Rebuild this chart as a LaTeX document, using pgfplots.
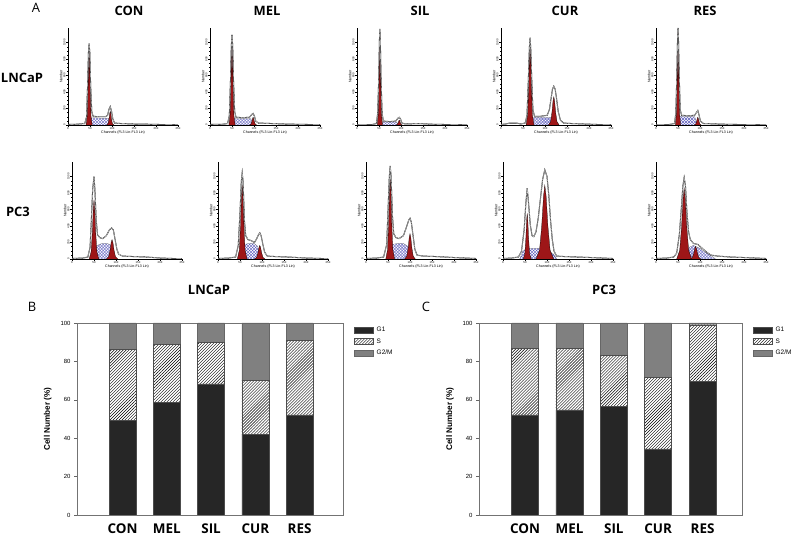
\documentclass[border=0pt]{standalone}
\usepackage{fontspec}
\setmainfont{Liberation Sans}
\newfontfamily\myr{Open Sans}
\usepackage{pgfplots}
\pgfplotsset{compat=1.18}
\usetikzlibrary{patterns}
\definecolor{peakred}{RGB}{158,22,24}
\definecolor{sblue}{RGB}{95,95,190}

\pgfplotsset{
  hist/.style={
    scale only axis, width=110bp, height=97bp,
    xmin=0, xmax=250, ymin=0, ymax=100,
    axis lines=left, axis line style={-, line width=0.4bp},
    xtick={0,50,...,250}, minor x tick num=4,
    ytick={0,17,34,51,68,85}, yticklabels={0,200,400,600,800,1000},
    minor y tick num=3,
    tick align=outside, major tick length=2bp, minor tick length=1bp,
    tick style={line width=0.3bp, black},
    /pgf/number format/assume math mode=true,
    ticklabel style={font=\fontsize{2.8}{3}\selectfont, inner sep=0.5bp},
    yticklabel style={rotate=90},
    xlabel={Channels (FL3 Lin-FL3 Lin)}, ylabel={Number},
    label style={font=\fontsize{3.6}{4}\selectfont},
    xlabel style={yshift=3bp}, ylabel style={yshift=-3bp},
  },
  env/.style={no markers, black, line width=0.3bp, double=white, double distance=0.35bp},
  sph/.style={no markers, draw=black!60, line width=0.2bp, pattern=crosshatch, pattern color=sblue},
  pk/.style={no markers, draw=black, line width=0.25bp, fill=peakred},
  bars/.style={
    scale only axis, height=192bp,
    ybar stacked, bar width=27bp,
    ymin=0, ymax=100, ytick={0,20,...,100},
    xtick={0,...,4}, xticklabels={CON,MEL,SIL,CUR,RES},
    axis line style={black!55, line width=0.5bp},
    ytick pos=left, tick align=outside, major tick length=3bp,
    ytick style={black!60}, xtick style={draw=none},
    /pgf/number format/assume math mode=true,
    yticklabel style={font=\fontsize{6}{7}\selectfont},
    xticklabel style={font=\myr\bfseries\fontsize{13.5}{15}\selectfont, yshift=-2bp},
    ylabel={Cell Number (\%)},
    ylabel style={font=\bfseries\fontsize{8.2}{9}\selectfont, at={(axis description cs:-0.11,0.5)}, anchor=center},
    legend style={at={(1.04,0.985)}, anchor=north west, draw=none,
      font=\fontsize{6.5}{7}\selectfont, row sep=3.5bp, inner sep=0pt,
      nodes={inner sep=1bp},
      /tikz/every odd column/.append style={column sep=2.5bp}},
    legend cell align=left,
    legend image code/.code={\draw[#1] (0bp,-3bp) rectangle (19bp,3bp);},
  },
  g1/.style={fill=black!85, draw=black!70, line width=0.4bp},
  sbar/.style={pattern=north east lines, draw=black!70, line width=0.4bp},
  g2/.style={fill=black!50, draw=black!60, line width=0.4bp},
}

\begin{document}
\begin{tikzpicture}[x=1bp, y=1bp]
\path[use as bounding box] (0,0) rectangle (796,536);

% ---- panel A labels ----
\node[font=\myr\fontsize{13}{15}\selectfont] at (36,528) {A};
\begin{scope}[every node/.style={font=\myr\bfseries\fontsize{13}{15}\selectfont}]
\node at (129,525) {CON};
\node at (267,525) {MEL};
\node at (420,525) {SIL};
\node at (565,525) {CUR};
\node at (705,525) {RES};
\node at (22,458) {LNCaP};
\node at (18,324) {PC3};
\end{scope}

% ---- LNCaP histograms ----
\begin{axis}[hist, at={(68bp,411bp)}, anchor=south west]
\addplot[sph] coordinates {(45,0)(49,7)(60,7.5)(75,7)(92,7)(97,0)};
\addplot[pk] coordinates {(41,0)(43.8,9.6)(45.5,36)(47,68)(48,80)(49,68)(50.5,36)(52.2,9.6)(55,0)};
\addplot[pk] coordinates {(88,0)(91.2,1.7)(93.2,6.3)(94.8,11.9)(96,14)(97.2,11.9)(98.8,6.3)(100.8,1.7)(104,0)};
\addplot[env] coordinates {(0,0.5)(20,0.8)(38,1.5)(42,8)(44.5,40)(46.5,75)(48,84)(49.5,75)(51.5,40)(54,14)(57,9)(70,8.5)(85,8.5)(90,10)(93,16)(96,19)(99,14)(102,6)(106,2)(120,1.5)(150,1)(180,0.8)(210,0.5)(240,0.3)(250,0.2)};
\end{axis}

\begin{axis}[hist, at={(210bp,411bp)}, anchor=south west]
\addplot[sph] coordinates {(47,0)(51,7)(65,6.5)(80,6.5)(93,6.5)(97,0)};
\addplot[pk] coordinates {(43,0)(45.8,10.6)(47.5,39.6)(49,74.8)(50,88)(51,74.8)(52.5,39.6)(54.2,10.6)(57,0)};
\addplot[pk] coordinates {(90,0)(93.2,1)(95.2,3.6)(96.8,6.8)(98,8)(99.2,6.8)(100.8,3.6)(102.8,1)(106,0)};
\addplot[env] coordinates {(0,0.5)(30,0.8)(40,1.5)(44,10)(46.5,45)(48.5,82)(50,93)(51.5,82)(53.5,45)(56,14)(59,8)(75,7.5)(90,8)(95,11)(98,12)(101,9)(104,4)(110,2)(140,1.5)(170,1)(200,0.7)(250,0.3)};
\end{axis}

\begin{axis}[hist, at={(357bp,411bp)}, anchor=south west]
\addplot[sph] coordinates {(49,0)(53,3)(70,3)(90,3)(95,0)};
\addplot[pk] coordinates {(46,0)(48.4,11.4)(49.9,42.8)(51.1,80.8)(52,95)(52.9,80.8)(54.1,42.8)(55.6,11.4)(58,0)};
\addplot[pk] coordinates {(89,0)(91.8,0.6)(93.6,2.3)(94.9,4.3)(96,5)(97.1,4.3)(98.4,2.3)(100.2,0.6)(103,0)};
\addplot[env] coordinates {(0,0.3)(35,0.5)(44,1.5)(47,12)(49.5,50)(51,88)(52,99)(53,88)(54.5,50)(57,12)(60,4)(75,3.5)(88,4)(93,7)(96,8)(99,6)(102,2)(110,1)(140,1.5)(170,0.8)(200,0.5)(250,0.2)};
\end{axis}

\begin{axis}[hist, at={(501bp,411bp)}, anchor=south west]
\addplot[sph] coordinates {(62,0)(68,8)(85,8)(100,7.5)(115,7.5)(122,0)};
\addplot[pk] coordinates {(57,0)(60.6,10.3)(62.9,38.7)(64.7,73.1)(66,86)(67.3,73.1)(69.2,38.7)(71.4,10.3)(75,0)};
\addplot[pk] coordinates {(108,0)(112.8,3.5)(115.8,13)(118.2,24.7)(120,29)(121.8,24.7)(124.2,13)(127.2,3.5)(132,0)};
\addplot[env] coordinates {(0,0.5)(10,1)(20,2)(35,2)(45,1)(55,2)(59,10)(62,45)(64.5,80)(66,90)(67.5,80)(70,45)(72.5,16)(76,9)(90,9)(105,10)(110,16)(114,28)(117,37)(120,40)(123,37)(126,28)(130,14)(135,5)(142,2)(160,1.5)(190,1)(220,0.5)(250,0.3)};
\end{axis}

\begin{axis}[hist, at={(656bp,411bp)}, anchor=south west]
\addplot[sph] coordinates {(47,0)(51,9)(70,8.5)(88,8.5)(94,0)};
\addplot[pk] coordinates {(44,0)(46.4,11.5)(47.9,43.2)(49.1,81.6)(50,96)(50.9,81.6)(52.1,43.2)(53.6,11.5)(56,0)};
\addplot[pk] coordinates {(87,0)(90.2,1)(92.2,3.6)(93.8,6.8)(95,8)(96.2,6.8)(97.8,3.6)(99.8,1)(103,0)};
\addplot[env] coordinates {(0,0.3)(30,0.5)(42,1.5)(45,12)(47.5,55)(49,90)(50,100)(51,90)(52.5,55)(55,16)(58,10)(75,9.5)(88,10)(92,13)(95,15)(98,10)(101,4)(108,1.5)(140,1)(170,0.6)(210,0.4)(250,0.2)};
\end{axis}

% ---- PC3 histograms ----
\begin{axis}[hist, at={(72bp,277bp)}, anchor=south west]
\addplot[sph] coordinates {(50,0)(57,14)(68,16)(80,16)(90,14)(97,0)};
\addplot[pk] coordinates {(39,0)(43.4,7.3)(46.2,27.5)(48.4,51.9)(50,61)(51.6,51.9)(53.9,27.5)(56.6,7.3)(61,0)};
\addplot[pk] coordinates {(78,0)(83.2,2.4)(86.5,9)(89,17)(91,20)(93,17)(95.6,9)(98.8,2.4)(104,0)};
\addplot[env] coordinates {(0,0.5)(25,1)(36,2)(41,12)(44,40)(47,72)(50,85)(52,72)(55,40)(58,25)(63,22)(70,21)(78,24)(85,30)(90,32)(94,30)(98,20)(102,10)(106,5)(115,3)(140,2.5)(170,2)(200,1)(230,0.5)(250,0.3)};
\end{axis}

\begin{axis}[hist, at={(218bp,277bp)}, anchor=south west]
\addplot[sph] coordinates {(54,0)(60,15)(70,16)(82,16)(90,13)(99,0)};
\addplot[pk] coordinates {(44,0)(48.4,9.1)(51.2,34.2)(53.4,64.6)(55,76)(56.6,64.6)(58.9,34.2)(61.6,9.1)(66,0)};
\addplot[pk] coordinates {(83,0)(87.8,1.7)(90.8,6.3)(93.2,11.9)(95,14)(96.8,11.9)(99.2,6.3)(102.2,1.7)(107,0)};
\addplot[env] coordinates {(0,0.5)(25,1)(40,2)(46,14)(50,48)(53,80)(55,89)(57,80)(60,40)(63,24)(68,20)(75,19)(83,17)(88,21)(92,25)(95,27)(98,24)(102,15)(106,7)(112,3)(130,2.5)(160,2)(200,1)(250,0.3)};
\end{axis}

\begin{axis}[hist, at={(366bp,277bp)}, anchor=south west]
\addplot[sph] coordinates {(54,0)(60,15)(72,16)(85,16)(95,13)(104,0)};
\addplot[pk] coordinates {(45,0)(49,9.8)(51.5,36.9)(53.5,69.7)(55,82)(56.5,69.7)(58.5,36.9)(61,9.8)(65,0)};
\addplot[pk] coordinates {(88,0)(92.8,3.1)(95.8,11.7)(98.2,22.1)(100,26)(101.8,22.1)(104.2,11.7)(107.2,3.1)(112,0)};
\addplot[env] coordinates {(0,0.5)(25,1)(40,2)(47,15)(50,50)(53,85)(55,96)(57,85)(60,45)(63,26)(68,22)(75,21)(85,24)(92,33)(97,40)(100,42)(103,38)(107,24)(111,10)(116,4)(130,3)(160,2.5)(200,1.5)(250,0.5)};
\end{axis}

\begin{axis}[hist, at={(503bp,277bp)}, anchor=south west]
\addplot[sph] coordinates {(38,0)(45,8)(55,11)(70,11)(85,11)(100,9)(115,5)(122,0)};
\addplot[pk] coordinates {(46,0)(49.6,5.6)(51.9,21.2)(53.7,40)(55,47)(56.3,40)(58.2,21.2)(60.4,5.6)(64,0)};
\addplot[pk] coordinates {(75,0)(83,9.1)(88,34.2)(92,64.6)(95,76)(98,64.6)(102,34.2)(107,9.1)(115,0)};
\addplot[env] coordinates {(0,0.5)(20,1)(35,2)(42,8)(48,30)(52,58)(55,73)(58,58)(62,35)(66,24)(70,23)(75,28)(80,42)(85,62)(90,82)(95,92)(100,85)(104,66)(108,40)(112,20)(116,8)(122,3)(140,2.5)(170,2)(200,1.5)(250,0.5)};
\end{axis}

\begin{axis}[hist, at={(656bp,277bp)}, anchor=south west]
\addplot[sph] coordinates {(65,0)(75,12)(85,14)(100,11)(115,6)(130,2)(135,0)};
\addplot[pk] coordinates {(47,0)(53.8,8.8)(58,32.9)(61.5,62)(64,73)(66.5,62)(70,32.9)(74.2,8.8)(81,0)};
\addplot[pk] coordinates {(78,0)(82.8,1.6)(85.8,5.9)(88.2,11.1)(90,13)(91.8,11.1)(94.2,5.9)(97.2,1.6)(102,0)};
\addplot[env] coordinates {(0,0.5)(25,1)(40,2)(47,6)(53,25)(58,55)(61,75)(64,84)(67,75)(70,50)(74,28)(78,20)(85,16)(95,15)(105,11)(115,7)(125,4)(140,3)(170,2)(200,1.5)(250,0.5)};
\end{axis}

% ---- panel B ----
\node[font=\myr\fontsize{13}{15}\selectfont] at (32,229) {B};
\node[font=\myr\bfseries\fontsize{13}{15}\selectfont] at (209,246) {LNCaP};
\begin{axis}[bars, width=266bp, xmin=-1.03, xmax=4.98, at={(77bp,21bp)}, anchor=south west]
\addplot[g1] coordinates {(0,49.2) (1,58.6) (2,68.3) (3,42.1) (4,52.2)};
\addplot[sbar] coordinates {(0,36.9) (1,30.4) (2,21.8) (3,28.0) (4,38.8)};
\addplot[g2] coordinates {(0,13.9) (1,11.0) (2,9.9) (3,29.9) (4,9.0)};
\legend{G1,S,G2/M}
\end{axis}

% ---- panel C ----
\node[font=\myr\fontsize{13}{15}\selectfont] at (426,229) {C};
\node[font=\myr\bfseries\fontsize{13}{15}\selectfont] at (604,246) {PC3};
\begin{axis}[bars, width=263bp, xmin=-1.04, xmax=4.89, at={(479bp,21bp)}, anchor=south west]
\addplot[g1] coordinates {(0,52.2) (1,54.8) (2,56.5) (3,34.4) (4,69.6)};
\addplot[sbar] coordinates {(0,34.6) (1,32.0) (2,26.5) (3,37.3) (4,29.5)};
\addplot[g2] coordinates {(0,13.2) (1,13.2) (2,17.0) (3,28.3) (4,0.9)};
\legend{G1,S,G2/M}
\end{axis}
\end{tikzpicture}
\end{document}
